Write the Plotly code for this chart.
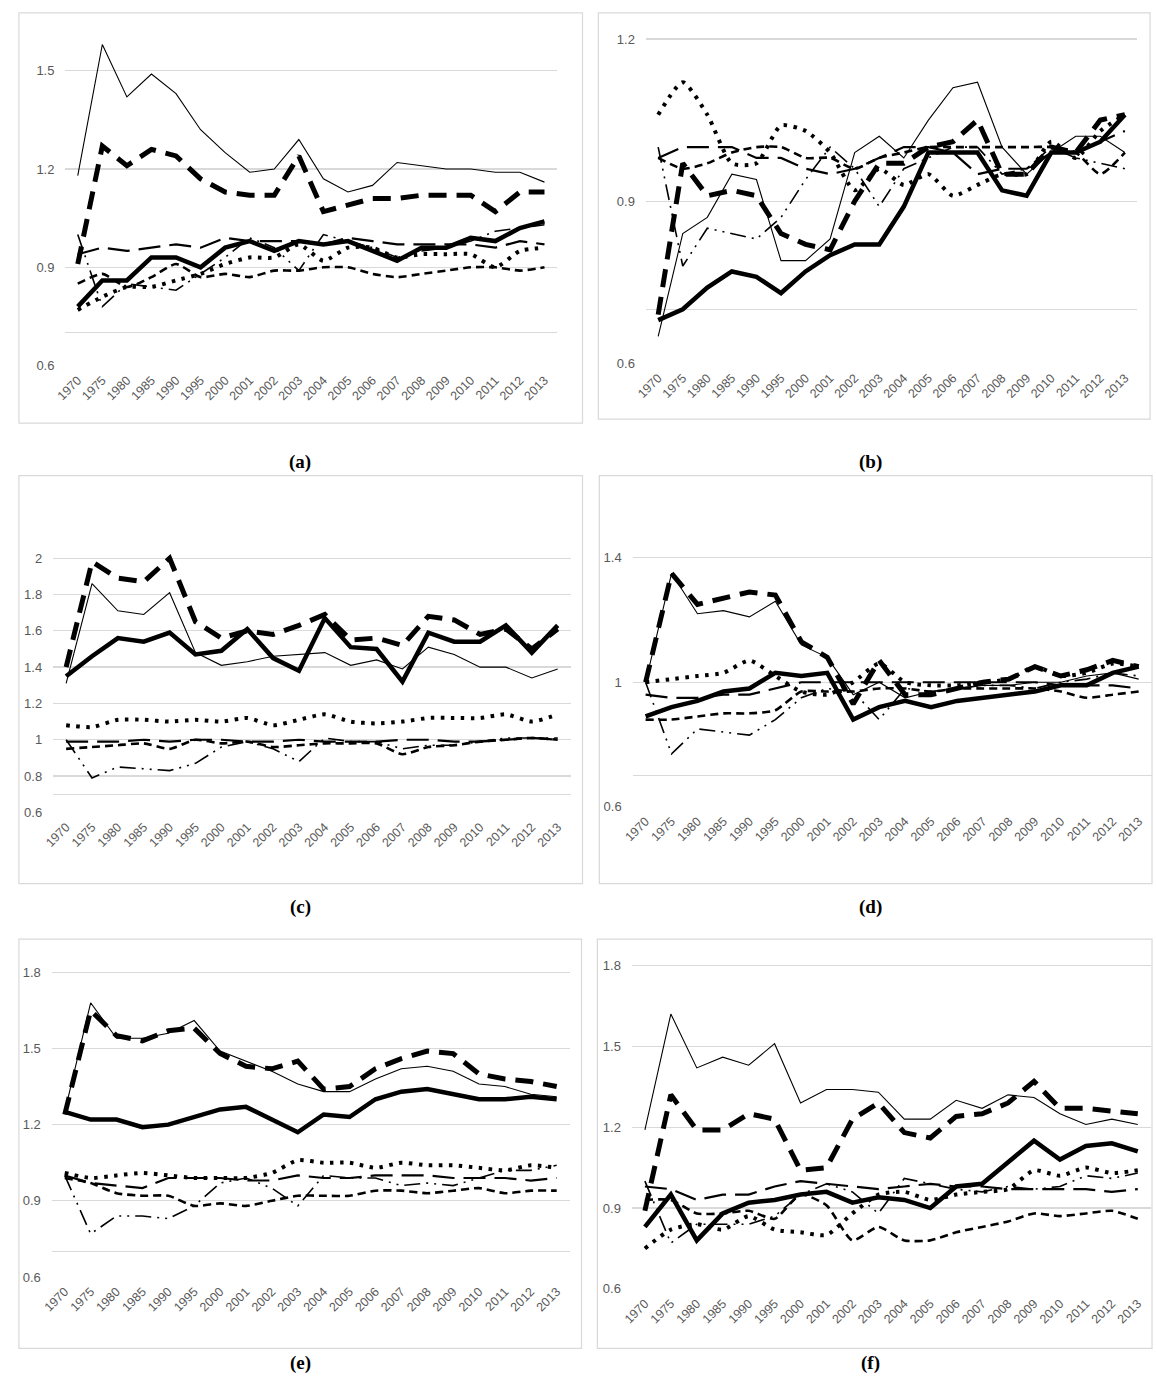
import plotly.graph_objects as go

years = ["1970", "1975", "1980", "1985", "1990", "1995", "2000", "2001", "2002", "2003",
         "2004", "2005", "2006", "2007", "2008", "2009", "2010", "2011", "2012", "2013"]

# ---- panel (a)
a_thin = [1.18,1.58,1.42,1.49,1.43,1.32,1.25,1.19,1.20,1.29,1.17,1.13,1.15,1.22,1.21,1.20,1.20,1.19,1.19,1.16]
a_thick = [0.78,0.86,0.86,0.93,0.93,0.90,0.96,0.98,0.95,0.98,0.97,0.98,0.95,0.92,0.96,0.96,0.99,0.98,1.02,1.04]
a_tdash = [0.91,1.27,1.21,1.26,1.24,1.17,1.13,1.12,1.12,1.24,1.07,1.09,1.11,1.11,1.12,1.12,1.12,1.07,1.13,1.13]
a_dot = [0.77,0.81,0.84,0.84,0.86,0.88,0.91,0.93,0.93,0.97,0.92,0.96,0.96,0.93,0.94,0.94,0.94,0.90,0.95,0.96]
a_mdash = [0.85,0.88,0.84,0.87,0.91,0.87,0.88,0.87,0.89,0.89,0.90,0.90,0.88,0.87,0.88,0.89,0.90,0.90,0.89,0.90]
a_ldash = [0.94,0.96,0.95,0.96,0.97,0.96,0.99,0.98,0.98,0.98,0.97,0.99,0.98,0.97,0.97,0.97,0.97,0.96,0.98,0.97]
a_dd = [1.00,0.78,0.85,0.84,0.83,0.88,0.93,0.99,0.96,0.89,1.00,0.98,0.96,0.93,0.95,0.96,0.98,1.01,1.02,1.03]

# ---- panel (b)
b_thin = [0.65,0.84,0.87,0.95,0.94,0.79,0.79,0.83,0.99,1.02,0.98,1.05,1.11,1.12,1.00,0.95,0.99,1.02,1.02,0.99]
b_thick = [0.68,0.70,0.74,0.77,0.76,0.73,0.77,0.80,0.82,0.82,0.89,0.99,0.99,0.99,0.92,0.91,0.99,0.99,1.01,1.06]
b_tdash = [0.69,0.97,0.91,0.92,0.91,0.84,0.82,0.81,0.90,0.97,0.97,1.00,1.01,1.05,0.95,0.95,1.00,0.99,1.05,1.06]
b_dot = [1.06,1.12,1.06,0.97,0.97,1.04,1.03,0.99,0.92,0.96,0.93,0.95,0.91,0.93,0.95,0.95,1.01,0.98,1.03,1.06]
b_mdash = [0.98,0.96,0.97,0.99,1.00,1.00,0.98,0.98,0.96,0.98,0.99,1.00,1.00,1.00,1.00,1.00,1.00,0.99,0.95,0.99]
b_ldash = [0.98,1.00,1.00,1.00,0.98,0.98,0.96,0.95,0.96,0.98,1.00,1.00,0.99,0.95,0.96,0.96,0.99,0.99,1.01,1.03]
b_dd = [1.00,0.78,0.85,0.84,0.83,0.87,0.94,1.00,0.96,0.89,0.96,0.98,1.00,1.00,0.95,0.96,1.00,0.98,0.97,0.96]

# ---- panel (c)
c_thin = [1.31,1.86,1.71,1.69,1.81,1.48,1.41,1.43,1.46,1.47,1.48,1.41,1.44,1.39,1.51,1.47,1.40,1.40,1.34,1.39]
c_thick = [1.35,1.46,1.56,1.54,1.59,1.47,1.49,1.61,1.45,1.38,1.67,1.51,1.50,1.32,1.59,1.54,1.54,1.63,1.48,1.63]
c_tdash = [1.40,1.98,1.89,1.87,2.00,1.65,1.56,1.60,1.58,1.63,1.69,1.55,1.56,1.52,1.68,1.66,1.58,1.61,1.50,1.61]
c_dot = [1.08,1.07,1.11,1.11,1.10,1.11,1.10,1.12,1.08,1.11,1.14,1.10,1.09,1.10,1.12,1.12,1.12,1.14,1.10,1.14]
c_mdash = [0.95,0.96,0.97,0.98,0.95,1.00,0.98,0.99,0.96,0.97,0.98,0.98,0.98,0.92,0.96,0.97,0.99,1.00,1.01,1.00]
c_ldash = [0.99,0.99,0.99,1.00,0.99,1.00,1.00,0.99,0.99,1.00,0.99,0.99,0.99,1.00,1.00,0.99,0.99,1.00,1.01,1.00]
c_dd = [1.00,0.79,0.85,0.84,0.83,0.87,0.96,0.99,0.95,0.88,1.01,0.99,0.99,0.95,0.97,0.97,0.99,1.01,1.01,1.01]

# ---- panel (d)
d_thin = [1.00,1.35,1.22,1.23,1.21,1.26,1.12,1.08,0.96,1.00,0.95,0.97,0.98,0.99,0.99,1.00,1.00,1.02,1.03,1.01]
d_thick = [0.89,0.92,0.94,0.97,0.98,1.03,1.02,1.03,0.88,0.92,0.94,0.92,0.94,0.95,0.96,0.97,0.99,0.99,1.03,1.05]
d_tdash = [1.00,1.35,1.25,1.27,1.29,1.28,1.13,1.08,0.93,1.07,0.96,0.96,0.98,1.00,1.01,1.05,1.02,1.04,1.07,1.05]
d_dot = [1.00,1.01,1.02,1.03,1.07,1.02,0.97,0.96,1.00,1.06,1.00,0.99,0.99,1.00,1.01,1.05,1.02,1.03,1.06,1.05]
d_mdash = [0.88,0.88,0.89,0.90,0.90,0.91,0.97,0.97,0.97,0.98,0.98,0.97,0.98,0.98,0.98,0.98,0.97,0.95,0.96,0.97]
d_ldash = [0.96,0.95,0.95,0.96,0.96,0.98,1.00,1.00,1.00,1.00,1.00,1.00,1.00,1.00,1.00,1.00,0.99,0.99,0.99,0.98]
d_dd = [1.00,0.77,0.85,0.84,0.83,0.88,0.95,0.98,0.97,0.88,0.98,0.97,0.98,0.99,0.99,0.98,1.00,1.01,1.03,1.02]

# ---- panel (e)
e_thin = [1.25,1.68,1.54,1.54,1.56,1.61,1.49,1.45,1.41,1.36,1.33,1.33,1.38,1.42,1.43,1.41,1.36,1.35,1.32,1.31]
e_thick = [1.25,1.22,1.22,1.19,1.20,1.23,1.26,1.27,1.22,1.17,1.24,1.23,1.30,1.33,1.34,1.32,1.30,1.30,1.31,1.30]
e_tdash = [1.24,1.65,1.55,1.53,1.57,1.58,1.48,1.43,1.42,1.45,1.34,1.35,1.42,1.46,1.49,1.48,1.40,1.38,1.37,1.35]
e_dot = [1.01,0.99,1.00,1.01,1.00,0.99,0.99,0.99,1.01,1.06,1.05,1.05,1.03,1.05,1.04,1.04,1.03,1.02,1.04,1.03]
e_mdash = [0.99,0.97,0.93,0.92,0.92,0.88,0.89,0.88,0.90,0.92,0.92,0.92,0.94,0.94,0.93,0.94,0.95,0.93,0.94,0.94]
e_ldash = [1.00,0.97,0.96,0.95,0.99,0.99,0.99,0.98,0.98,1.00,0.99,0.99,1.00,1.00,1.00,0.99,0.99,0.99,0.98,0.99]
e_dd = [1.00,0.77,0.84,0.84,0.83,0.88,0.97,0.99,0.95,0.88,1.00,0.99,0.99,0.96,0.97,0.96,0.99,1.02,1.02,1.04]

# ---- panel (f)
f_thin = [1.19,1.62,1.42,1.46,1.43,1.51,1.29,1.34,1.34,1.33,1.23,1.23,1.30,1.27,1.32,1.31,1.25,1.21,1.23,1.21]
f_thick = [0.83,0.95,0.78,0.88,0.92,0.93,0.95,0.96,0.92,0.94,0.93,0.90,0.98,0.99,1.07,1.15,1.08,1.13,1.14,1.11]
f_tdash = [0.89,1.32,1.19,1.19,1.25,1.23,1.04,1.05,1.23,1.29,1.18,1.16,1.24,1.25,1.29,1.37,1.27,1.27,1.26,1.25]
f_dot = [0.75,0.82,0.84,0.82,0.87,0.82,0.81,0.80,0.88,0.95,0.96,0.93,0.95,0.96,0.97,1.04,1.02,1.05,1.03,1.04]
f_mdash = [0.93,0.93,0.88,0.88,0.89,0.86,0.95,0.91,0.78,0.83,0.78,0.78,0.81,0.83,0.85,0.88,0.87,0.88,0.89,0.86]
f_ldash = [0.98,0.97,0.93,0.95,0.95,0.98,1.00,0.99,0.98,0.97,0.98,0.99,0.98,0.98,0.97,0.97,0.97,0.97,0.96,0.97]
f_dd = [1.00,0.77,0.84,0.84,0.84,0.87,0.95,0.99,0.96,0.88,1.01,0.99,0.97,0.96,0.98,0.97,0.98,1.02,1.01,1.03]

# y tick values / labels per panel (0.7 is an unlabeled gridline)
a_ticks = [0.6, 0.7, 0.9, 1.2, 1.5]
b_ticks = [0.6, 0.7, 0.9, 1.2]
c_ticks = [0.6, 0.7, 0.8, 1.0, 1.2, 1.4, 1.6, 1.8, 2.0]
d_ticks = [0.6, 0.7, 1.0, 1.4]
e_ticks = [0.6, 0.7, 0.9, 1.2, 1.5, 1.8]
f_ticks = [0.6, 0.9, 1.2, 1.5, 1.8]
a_labels = ["0.6", "", "0.9", "1.2", "1.5"]
b_labels = ["0.6", "", "0.9", "1.2"]
c_labels = ["0.6", "", "0.8", "1", "1.2", "1.4", "1.6", "1.8", "2"]
d_labels = ["0.6", "", "1", "1.4"]
e_labels = ["0.6", "", "0.9", "1.2", "1.5", "1.8"]
f_labels = ["0.6", "0.9", "1.2", "1.5", "1.8"]

W, H = 1156, 1392
BLACK = "#000000"
GRID = "#d9d9d9"
TXT = "#595959"

styles = {
    "dd": dict(width=1.6, dash="16px,6px,2px,6px,2px,6px"),
    "ldash": dict(width=2.2, dash="22px,9px"),
    "mdash": dict(width=2.6, dash="8px,5px"),
    "dot": dict(width=4, dash="3.5px,6.5px"),
    "thin": dict(width=1.1, dash="solid"),
    "tdash": dict(width=5, dash="18px,10px"),
    "thick": dict(width=4.5, dash="solid"),
}
smooth = {"dot", "mdash"}

panels = [
    # key, series dict, ticks, labels, plot px (x0, x1, ytop, ybottom), yrange, border px, caption
    ("a", dict(dd=a_dd, ldash=a_ldash, mdash=a_mdash, dot=a_dot, thin=a_thin, tdash=a_tdash, thick=a_thick),
     a_ticks, a_labels, (55, 551, 26, 364), (0.6, 1.622), (8, 577, 8, 422), "(a)", (292, 461)),
    ("b", dict(dd=b_dd, ldash=b_ldash, mdash=b_mdash, dot=b_dot, thin=b_thin, tdash=b_tdash, thick=b_thick),
     b_ticks, b_labels, (641, 1137, 31.6, 361.7), (0.6, 1.205), (593, 1150, 8, 418), "(b)", (868, 461)),
    ("c", dict(dd=c_dd, ldash=c_ldash, mdash=c_mdash, dot=c_dot, thin=c_thin, tdash=c_tdash, thick=c_thick),
     c_ticks, c_labels, (42.6, 565, 512.6, 815), (0.6, 2.25), (8, 577, 475, 887), "(c)", (292, 911)),
    ("d", dict(dd=d_dd, ldash=d_ldash, mdash=d_mdash, dot=d_dot, thin=d_thin, tdash=d_tdash, thick=d_thick),
     d_ticks, d_labels, (627.6, 1151.6, 510.8, 809.3), (0.6, 1.55), (594, 1152, 475, 887), "(d)", (868, 911)),
    ("e", dict(dd=e_dd, ldash=e_ldash, mdash=e_mdash, dot=e_dot, thin=e_thin, tdash=e_tdash, thick=e_thick),
     e_ticks, e_labels, (41.2, 564, 963.6, 1284), (0.6, 1.85), (8, 576, 943, 1356), "(e)", (292, 1371)),
    ("f", dict(dd=f_dd, ldash=f_ldash, mdash=f_mdash, dot=f_dot, thin=f_thin, tdash=f_tdash, thick=f_thick),
     f_ticks, f_labels, (626.9, 1150.7, 961.4, 1296), (0.6, 1.83), (592, 1152, 943, 1356), "(f)", (868, 1371)),
]

fig = go.Figure()
layout = dict(
    width=W, height=H, margin=dict(l=0, r=0, t=0, b=0),
    paper_bgcolor="white", plot_bgcolor="white", showlegend=False,
    shapes=[], annotations=[], hovermode=False,
)

for i, (key, series, ticks, labels, px, yr, border, cap, cap_pos) in enumerate(panels):
    n = "" if i == 0 else str(i + 1)
    xa, ya = "x" + n, "y" + n
    x0, x1, yt, yb = px
    layout["xaxis" + n] = dict(
        domain=[x0 / W, x1 / W], anchor=ya, type="category",
        categoryorder="array", categoryarray=years, range=[-0.5, 19.5],
        showgrid=False, showline=False, zeroline=False, ticks="",
        tickangle=-45, tickfont=dict(family="Liberation Sans", size=12.5, color=TXT),
        ticklabelstandoff=4, fixedrange=True,
    )
    layout["yaxis" + n] = dict(
        domain=[1 - yb / H, 1 - yt / H], anchor=xa, range=list(yr),
        tickmode="array", tickvals=ticks, ticktext=labels,
        showgrid=True, gridcolor=GRID, gridwidth=1.3, zeroline=False, showline=False,
        ticks="", tickfont=dict(family="Liberation Sans", size=13, color=TXT),
        ticklabelstandoff=10, fixedrange=True,
    )
    bx0, bx1, by0, by1 = border
    layout["shapes"].append(dict(
        type="rect", xref="paper", yref="paper",
        x0=bx0 / W, x1=bx1 / W, y0=1 - by1 / H, y1=1 - by0 / H,
        line=dict(color=GRID, width=1.2), fillcolor="rgba(0,0,0,0)", layer="below",
    ))
    layout["annotations"].append(dict(
        text="<b>" + cap + "</b>", xref="paper", yref="paper",
        x=cap_pos[0] / W, y=1 - cap_pos[1] / H, showarrow=False,
        xanchor="center", yanchor="middle",
        font=dict(family="Liberation Serif", size=19, color=BLACK),
    ))
    for sk in ["dd", "ldash", "mdash", "dot", "thin", "tdash", "thick"]:
        st = styles[sk]
        line = dict(color=BLACK, width=st["width"], dash=st["dash"])
        if sk in smooth:
            line["shape"] = "spline"
            line["smoothing"] = 0.6
        fig.add_trace(go.Scatter(
            x=years, y=series[sk], mode="lines", line=line,
            xaxis=xa, yaxis=ya, name=sk, hoverinfo="skip",
        ))

fig.update_layout(**layout)
fig.write_html(
    "out.html",
    config={"displayModeBar": False, "staticPlot": True},
    post_script="document.body.style.margin='0';document.body.style.overflow='hidden';",
)
